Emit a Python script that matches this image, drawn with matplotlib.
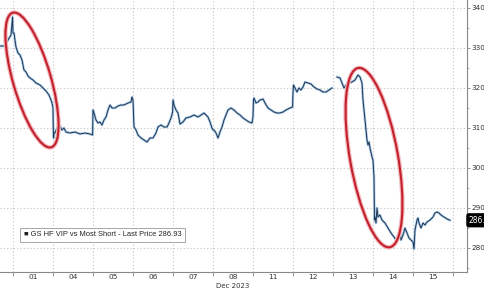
import numpy as np
import matplotlib.pyplot as plt
from matplotlib.patches import Ellipse
from matplotlib import transforms as mtransforms

# trading days in Dec 2023 (x position = day index, 0 = start of Dec 01)
days = ['01', '04', '05', '06', '07', '08', '11', '12', '13', '14', '15']

# GS HF VIP vs Most Short, intraday
t = [-0.325, -0.2, -0.125, -0.05, -0.01, 0.0, 0.025, 0.075, 0.125, 0.175, 0.225, 0.275,
     0.325, 0.375, 0.425, 0.5, 0.575, 0.675, 0.75, 0.825, 0.9, 0.95, 0.975, 1.0,
     1.008, 1.015, 1.025, 1.05, 1.1, 1.125, 1.175, 1.225, 1.275, 1.325, 1.425, 1.55,
     1.675, 1.8, 1.925, 1.99,
     2.0, 2.025, 2.075, 2.125, 2.175, 2.225, 2.275, 2.325, 2.375, 2.425, 2.475, 2.55,
     2.625, 2.7, 2.775, 2.875, 2.95, 2.975, 3.0,
     3.025, 3.075, 3.125, 3.2, 3.275, 3.35, 3.425, 3.5, 3.575, 3.625, 3.7, 3.775,
     3.85, 3.9, 3.95, 3.99,
     4.0, 4.025, 4.075, 4.125, 4.175, 4.25, 4.325, 4.425, 4.525, 4.625, 4.7, 4.775,
     4.825, 4.875, 4.925, 4.975,
     5.0, 5.025, 5.075, 5.125, 5.175, 5.225, 5.275, 5.325, 5.375, 5.45, 5.525, 5.6,
     5.675, 5.75, 5.825, 5.9, 5.975,
     6.0, 6.012, 6.025, 6.075, 6.125, 6.175, 6.25, 6.3, 6.375, 6.45, 6.525, 6.6,
     6.675, 6.75, 6.825, 6.925, 6.99,
     7.0, 7.012, 7.05, 7.1, 7.15, 7.2, 7.25, 7.3, 7.375, 7.45, 7.525, 7.6, 7.675,
     7.75, 7.825, 7.9, 7.975, 8.04,
     8.1, 8.175, 8.225, 8.275, 8.325, 8.4, 8.475, 8.55, 8.625, 8.675, 8.725, 8.75,
     8.775, 8.8, 8.825, 8.85, 8.875, 8.9, 8.925, 8.975, 9.0,
     9.025, 9.037, 9.05, 9.075, 9.1, 9.125, 9.175, 9.225, 9.3, 9.375, 9.45, 9.525,
     9.575, 9.625, 9.675, 9.7, 9.75, 9.8, 9.85, 9.9, 9.95, 10.0, 10.025,
     10.05, 10.1, 10.125, 10.15, 10.2, 10.25, 10.3, 10.35, 10.425, 10.5, 10.55, 10.6,
     10.65, 10.7, 10.775, 10.85, 10.925]
price = [330.5, 330.5, 332.0, 333.25, 337.75, 333.75, 333.75, 330.25, 328.75, 328.25, 327.0, 324.5,
         324.0, 323.0, 322.5, 322.0, 321.25, 320.75, 320.0, 319.25, 318.25, 317.0, 316.25, 315.0,
         309.5, 307.5, 308.75, 308.75, 310.0, 309.5, 310.5, 309.5, 310.0, 309.0, 308.75, 309.0,
         308.5, 308.75, 308.5, 308.25,
         314.5, 313.75, 312.0, 311.25, 311.5, 310.75, 312.0, 312.75, 314.5, 315.75, 315.0, 315.0,
         315.5, 315.75, 315.75, 316.25, 316.5, 317.75, 317.0,
         310.25, 309.5, 308.25, 307.5, 307.0, 306.5, 307.5, 307.5, 308.75, 310.25, 310.75, 310.25,
         310.25, 311.25, 312.5, 314.0,
         317.0, 315.75, 314.5, 313.75, 311.0, 311.5, 312.5, 312.75, 313.25, 312.75, 313.25, 313.75,
         313.25, 312.75, 311.5, 310.0,
         309.5, 309.5, 308.75, 307.5, 309.0, 310.25, 312.0, 313.25, 314.5, 315.0, 314.5, 313.75,
         313.25, 312.5, 312.0, 311.5, 311.25,
         312.75, 317.0, 317.5, 316.25, 316.5, 317.0, 317.25, 316.25, 315.0, 314.5, 314.0, 313.75,
         313.75, 314.0, 314.5, 315.0, 315.25,
         318.75, 320.75, 320.0, 319.0, 320.0, 319.5, 320.25, 321.5, 321.25, 321.0, 320.25, 319.75, 319.5,
         319.0, 319.0, 319.5, 320.0, np.nan,
         322.75, 322.5, 321.25, 320.0, 320.75, 321.25, 321.5, 322.0, 323.25, 322.75, 321.25, 317.0,
         314.5, 312.0, 309.5, 307.0, 305.75, 306.5, 305.0, 302.75, 302.0,
         297.75, 287.0, 287.75, 286.25, 290.0, 287.75, 288.25, 287.0, 286.25, 285.0, 283.75, 282.75,
         282.0, 282.5, 284.0, 282.0, 283.25, 285.0, 283.75, 282.5, 282.0, 281.5, 279.75,
         284.5, 287.0, 287.5, 286.25, 285.0, 286.25, 285.75, 286.5, 287.0, 287.75, 288.75, 289.0,
         288.75, 288.25, 287.75, 287.25, 286.93]
last_price = 286.93

# red circles: (centre day, centre price, width px, height px, angle)
circles = [(0.475, 322.0, 38, 140, 16), (9.025, 302.6, 48, 182, 10)]

fig = plt.figure(figsize=(4.85, 2.9), dpi=100)
ax = fig.add_axes([0, 18 / 290, 467 / 485, 272 / 290])
ax.set_xlim(-0.325, 11.35)
ax.set_ylim(274, 342)

ax.plot(t, price, color='#a9cbea', lw=1.8, solid_joinstyle='round', zorder=3)
ax.plot(t, price, color='#1e3550', lw=0.7, zorder=4)

for xc, yc, w, h, ang in circles:
    tr = mtransforms.Affine2D() + mtransforms.ScaledTranslation(xc, yc, ax.transData)
    ax.add_patch(Ellipse((0, 0), w, h, angle=ang, transform=tr, fill=False,
                         ec='#f2b9be', lw=3.2, zorder=5))
    ax.add_patch(Ellipse((0, 0), w, h, angle=ang, transform=tr, fill=False,
                         ec='#c3202b', lw=1.5, zorder=6))

# axes styling
for s in ['left', 'top']:
    ax.spines[s].set_visible(False)
ax.spines['right'].set_color('#888888')
ax.spines['bottom'].set_color('#888888')
ax.spines['right'].set_linewidth(0.8)
ax.spines['bottom'].set_linewidth(0.8)

ax.yaxis.tick_right()
ax.set_yticks(np.arange(280, 341, 10))
ax.set_yticks(np.arange(275, 342, 5), minor=True)
ax.tick_params(axis='y', which='major', labelsize=5.2, length=2.5, width=0.6,
               colors='#888888', labelcolor='#333333', pad=0.8)
ax.tick_params(axis='y', which='minor', length=1.5, width=0.5, colors='#888888')

ax.set_xticks(np.arange(len(days) + 1), minor=True)
ax.set_xticks(np.arange(len(days)) + 0.5)
ax.set_xticklabels(days)
ax.tick_params(axis='x', which='major', length=0, labelsize=5.3, labelcolor='#333333', pad=1.5)
ax.tick_params(axis='x', which='minor', length=3, width=0.6, colors='#888888')

ax.grid(axis='y', which='major', color='#c4c4c4', ls=(0, (1, 2)), lw=0.8)
ax.grid(axis='x', which='minor', color='#c4c4c4', ls=(0, (1, 2)), lw=0.8)

ax.text(5.5, -0.04, 'Dec 2023', transform=ax.get_xaxis_transform(), ha='center',
        va='top', fontsize=5.0, color='#333333')

# last price tag
ax.text(1.004, last_price, '%.2f' % last_price, transform=ax.get_yaxis_transform(),
        ha='left', va='center', fontsize=5.5, color='white', clip_on=False,
        bbox=dict(boxstyle='round,pad=0.25', fc='black', ec='black'))

# legend box
ax.text(0.27, 283.25, '\u25a0 GS HF VIP vs Most Short - Last Price %.2f' % last_price,
        ha='left', va='center', fontsize=5.4, color='#222222',
        family=['Liberation Sans', 'DejaVu Sans'], zorder=7,
        bbox=dict(boxstyle='square,pad=0.45', fc='white', ec='#999999', lw=0.6))

fig.savefig('out.png', dpi=100)
